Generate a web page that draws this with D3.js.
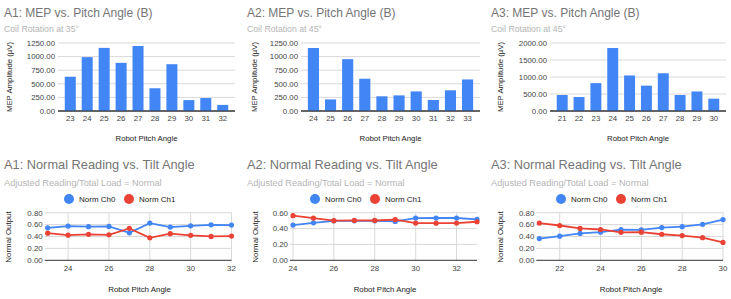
<!DOCTYPE html>
<html>
<head>
<meta charset="utf-8">
<script src="https://cdn.jsdelivr.net/npm/d3@7"></script>
<style>
  body { margin: 0; background: #fff; }
  text { font-family: "Liberation Sans", Arial, sans-serif; }
</style>
</head>
<body>
<svg id="chart" width="731" height="299"></svg>
<script>
// --- bar charts: MEP amplitude per pitch angle
const a1Angles = [23, 24, 25, 26, 27, 28, 29, 30, 31, 32]
const a1Mep = [630, 990, 1160, 885, 1195, 418, 860, 200, 238, 112]
const a2Angles = [24, 25, 26, 27, 28, 29, 30, 31, 32, 33]
const a2Mep = [1158, 213, 953, 593, 270, 287, 360, 202, 380, 580]
const a3Angles = [21, 22, 23, 24, 25, 26, 27, 28, 29, 30]
const a3Mep = [470, 412, 820, 1852, 1045, 745, 1110, 470, 575, 362]
const mepTicksSmall = [0, 250, 500, 750, 1000, 1250]
const mepTicksLarge = [0, 500, 1000, 1500, 2000]

// --- line charts: normalised readings
const a1Ch0 = [0.546, 0.575, 0.565, 0.570, 0.462, 0.625, 0.558, 0.580, 0.597, 0.592]
const a1Ch1 = [0.456, 0.422, 0.437, 0.428, 0.537, 0.377, 0.447, 0.420, 0.402, 0.407]
const a2Ch0 = [0.444, 0.473, 0.498, 0.498, 0.498, 0.490, 0.532, 0.533, 0.533, 0.515]
const a2Ch1 = [0.562, 0.532, 0.500, 0.502, 0.502, 0.513, 0.469, 0.468, 0.469, 0.486]
const a3Ch0 = [0.365, 0.405, 0.452, 0.472, 0.515, 0.510, 0.550, 0.565, 0.605, 0.685]
const a3Ch1 = [0.625, 0.585, 0.535, 0.518, 0.470, 0.472, 0.438, 0.415, 0.380, 0.300]
const a1LineTicks = [24, 26, 28, 30, 32]
const a2LineTicks = [24, 26, 28, 30, 32]
const a3LineTicks = [22, 24, 26, 28, 30]
const normTicks8 = [0, 0.2, 0.4, 0.6, 0.8]
const normTicks6 = [0, 0.2, 0.4, 0.6]
const seriesNames = ["Norm Ch0", "Norm Ch1"]

const BLUE = "#4285f4"
const RED = "#ea4335"
const GRID = "#d9d9d9"
const svg = d3.select("#chart")

function titles(ox, y, size, title, sub, subSize, subGap) {
  svg.append("text").attr("x", ox + 4).attr("y", y)
    .attr("font-size", size).attr("fill", "#757575").text(title)
  svg.append("text").attr("x", ox + 4).attr("y", y + subGap)
    .attr("font-size", subSize).attr("fill", "#b5b5b5").text(sub)
}

function drawBar(c) {
  titles(c.ox, 17.3, 12, c.title, c.sub, 8.7, 14.6)
  const x = d3.scaleBand().domain(c.angles).range([c.left, c.right])
    .paddingInner(0.35).paddingOuter(0.4)
  const y = d3.scaleLinear().domain([0, d3.max(c.ticks)]).range([111, 43])

  // horizontal grid + y labels
  const g = svg.append("g")
  g.selectAll("line.grid").data(c.ticks).enter().append("line")
    .attr("x1", c.left).attr("x2", c.right)
    .attr("y1", d => y(d)).attr("y2", d => y(d))
    .attr("stroke", d => d === 0 ? "#333" : GRID).attr("stroke-width", 1)
  g.selectAll("text.yl").data(c.ticks).enter().append("text")
    .attr("x", c.left - 3).attr("y", d => y(d) + 2.8)
    .attr("text-anchor", "end").attr("font-size", 7.8).attr("fill", "#444")
    .text(d => d3.format(".2f")(d))

  g.selectAll("rect").data(c.angles).enter().append("rect")
    .attr("x", d => x(d)).attr("width", x.bandwidth())
    .attr("y", (d, i) => y(c.values[i]))
    .attr("height", (d, i) => y(0) - y(c.values[i]))
    .attr("fill", BLUE)
  // redraw baseline on top
  g.append("line").attr("x1", c.left).attr("x2", c.right)
    .attr("y1", y(0)).attr("y2", y(0)).attr("stroke", "#333")

  g.selectAll("text.xl").data(c.angles).enter().append("text")
    .attr("x", d => x(d) + x.bandwidth() / 2).attr("y", 121)
    .attr("text-anchor", "middle").attr("font-size", 7.8).attr("fill", "#444")
    .text(d => d)

  svg.append("text").attr("x", (c.left + c.right) / 2).attr("y", 140.5)
    .attr("text-anchor", "middle").attr("font-size", 7.8).attr("fill", "#222")
    .text("Robot Pitch Angle")
  svg.append("text")
    .attr("transform", `translate(${c.ox + c.ytx},77) rotate(-90)`)
    .attr("text-anchor", "middle").attr("font-size", 7.8).attr("fill", "#222")
    .text("MEP Amplitude (µV)")
}

function drawLine(c) {
  titles(c.ox, 169.3, 12.8, c.title, "Adjusted Reading/Total Load = Normal", 9.2, 16.4)

  // legend
  const lg = svg.append("g")
  seriesNames.forEach((n, i) => {
    const lx = c.ox + c.legX + i * 60
    lg.append("circle").attr("cx", lx).attr("cy", 199).attr("r", 5)
      .attr("fill", i === 0 ? BLUE : RED)
    lg.append("text").attr("x", lx + 10).attr("y", 201.9)
      .attr("font-size", 8).attr("fill", "#222").text(n)
  })

  const x = d3.scaleLinear().domain(d3.extent(c.angles)).range([c.left, c.right])
  const y = d3.scaleLinear().domain([0, d3.max(c.yTicks)]).range([260.3, 212.7])
  const g = svg.append("g")

  g.selectAll("line.v").data(c.xTicks).enter().append("line")
    .attr("x1", d => x(d)).attr("x2", d => x(d))
    .attr("y1", y(d3.max(c.yTicks))).attr("y2", y(0))
    .attr("stroke", GRID)
  g.selectAll("line.h").data(c.yTicks).enter().append("line")
    .attr("x1", c.left - 3).attr("x2", c.right)
    .attr("y1", d => y(d)).attr("y2", d => y(d))
    .attr("stroke", d => d === 0 ? "#333" : GRID)
  g.selectAll("text.yl").data(c.yTicks).enter().append("text")
    .attr("x", c.left - 5).attr("y", d => y(d) + 2.8)
    .attr("text-anchor", "end").attr("font-size", 7.9).attr("fill", "#444")
    .text(d => d3.format(".2f")(d))
  g.selectAll("text.xl").data(c.xTicks).enter().append("text")
    .attr("x", d => x(d)).attr("y", 271)
    .attr("text-anchor", "middle").attr("font-size", 7.9).attr("fill", "#444")
    .text(d => d)

  const line = d3.line().x(d => x(d[0])).y(d => y(d[1]))
  ;[[c.ch0, BLUE], [c.ch1, RED]].forEach(([vals, col]) => {
    const pts = c.angles.map((a, i) => [a, vals[i]])
    g.append("path").datum(pts).attr("d", line)
      .attr("fill", "none").attr("stroke", col).attr("stroke-width", 1.8)
    g.selectAll(null).data(pts).enter().append("circle")
      .attr("cx", d => x(d[0])).attr("cy", d => y(d[1])).attr("r", 2.6)
      .attr("fill", col)
  })

  svg.append("text").attr("x", (c.left + c.right) / 2).attr("y", 291.5)
    .attr("text-anchor", "middle").attr("font-size", 7.9).attr("fill", "#222")
    .text("Robot Pitch Angle")
  svg.append("text")
    .attr("transform", `translate(${c.ox + c.ytx},237) rotate(-90)`)
    .attr("text-anchor", "middle").attr("font-size", 7.9).attr("fill", "#222")
    .text("Normal Output")
}

drawBar({ ox: 0, left: 58, right: 235, ytx: 11.5, angles: a1Angles, values: a1Mep,
  ticks: mepTicksSmall, title: "A1: MEP vs. Pitch Angle (B)", sub: "Coil Rotation at 35°" })
drawBar({ ox: 243, left: 301, right: 480, ytx: 14, angles: a2Angles, values: a2Mep,
  ticks: mepTicksSmall, title: "A2: MEP vs. Pitch Angle (B)", sub: "Coil Rotation at 45°" })
drawBar({ ox: 487, left: 550, right: 726, ytx: 16, angles: a3Angles, values: a3Mep,
  ticks: mepTicksLarge, title: "A3: MEP vs. Pitch Angle (B)", sub: "Coil Rotation at 45°" })

drawLine({ ox: 0, left: 47.7, right: 231.5, ytx: 11, legX: 69, angles: a1Angles,
  ch0: a1Ch0, ch1: a1Ch1, xTicks: a1LineTicks, yTicks: normTicks8,
  title: "A1: Normal Reading vs. Tilt Angle" })
drawLine({ ox: 243, left: 293, right: 477, ytx: 14.5, legX: 72, angles: a2Angles,
  ch0: a2Ch0, ch1: a2Ch1, xTicks: a2LineTicks, yTicks: normTicks6,
  title: "A2: Normal Reading vs. Tilt Angle" })
drawLine({ ox: 487, left: 539.3, right: 723, ytx: 16, legX: 74, angles: a3Angles,
  ch0: a3Ch0, ch1: a3Ch1, xTicks: a3LineTicks, yTicks: normTicks8,
  title: "A3: Normal Reading vs. Tilt Angle" })
</script>
</body>
</html>
